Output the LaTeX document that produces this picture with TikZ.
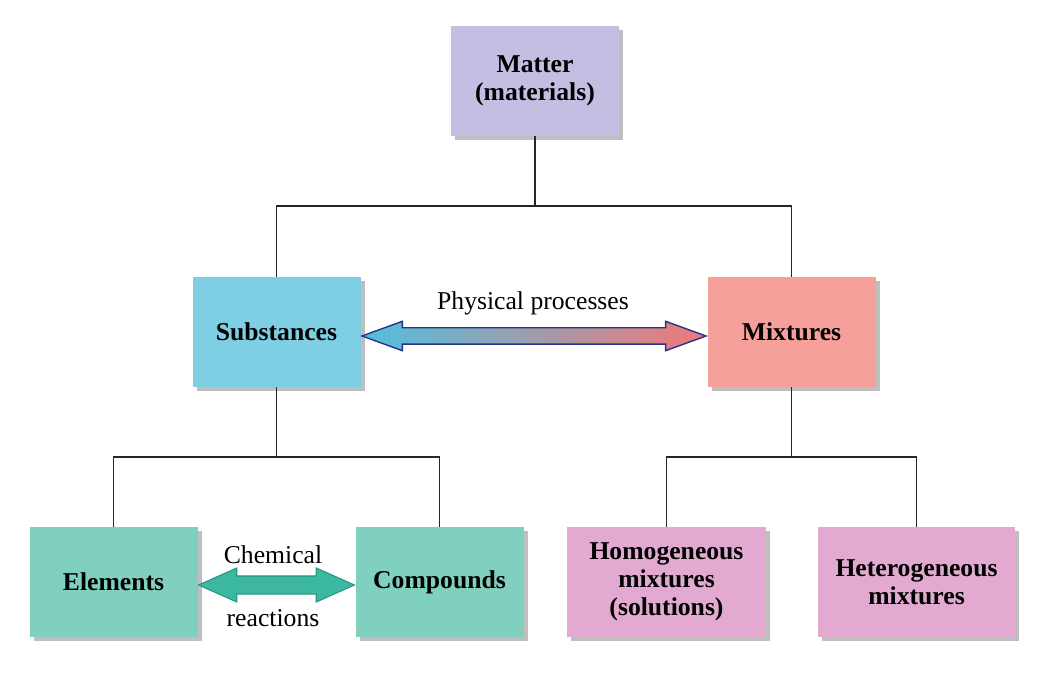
\documentclass[tikz,border=0pt]{standalone}
\usepackage{fontspec}
\setmainfont{Liberation Serif}
\usetikzlibrary{shapes.arrows,shadows,calc}
\definecolor{matcol}{RGB}{196,190,226}
\definecolor{subcol}{RGB}{126,206,228}
\definecolor{mixcol}{RGB}{245,160,155}
\definecolor{elcol}{RGB}{128,208,192}
\definecolor{solcol}{RGB}{226,170,208}
\definecolor{physblue}{RGB}{80,192,222}
\definecolor{physred}{RGB}{240,120,120}
\definecolor{physline}{RGB}{40,50,140}
\definecolor{chemfill}{RGB}{60,184,160}
\definecolor{chemline}{RGB}{40,150,130}
\begin{document}
\begin{tikzpicture}[
  box/.style={rectangle, align=center, font=\fontsize{14.6}{15.8}\selectfont\bfseries,
    minimum width=3.36cm, minimum height=2.2cm, inner sep=0pt,
    drop shadow={shadow xshift=0.08cm, shadow yshift=-0.08cm, fill=black, opacity=0.25}},
  lbl/.style={font=\fontsize{14.6}{16.5}\selectfont},
  tree/.style={draw=black!85, line width=0.8pt}]
\useasboundingbox (0,0) rectangle (20.78,13.56);

\node[box, fill=matcol] (matter) at (10.70,11.94) {Matter\\(materials)};
\node[box, fill=subcol] (subst) at (5.53,6.92) {Substances};
\node[box, fill=mixcol] (mix) at (15.83,6.92) {Mixtures};
\node[box, fill=elcol] (elem) at (2.27,1.92) {Elements};
\node[box, fill=elcol] (comp) at (8.79,1.92) {Compounds};
\node[box, fill=solcol, minimum width=3.98cm] (homo) at (13.33,1.92) {Homogeneous\\mixtures\\(solutions)};
\node[box, fill=solcol, minimum width=3.94cm] (hetero) at (18.33,1.92) {Heterogeneous\\mixtures};

% tree lines
\coordinate (j1) at (10.70,9.44);
\coordinate (j2) at (5.53,4.42);
\coordinate (j3) at (15.83,4.42);
\draw[tree] (matter) -- (j1);
\draw[tree] (j1) -| (subst);
\draw[tree] (j1) -| (mix);
\draw[tree] (subst) -- (j2);
\draw[tree] (j2) -| (elem);
\draw[tree] (j2) -| (comp);
\draw[tree] (mix) -- (j3);
\draw[tree] (j3) -| (homo);
\draw[tree] (j3) -| (hetero);

% fat arrows
\node[double arrow, draw=physline, line width=0.8pt, left color=physblue, right color=physred,
  minimum height=6.88cm, minimum width=0.56cm, double arrow head extend=0.13cm,
  double arrow tip angle=40, inner sep=0.15cm] (phys) at ($(subst.east)!0.5!(mix.west)+(0,-0.08)$) {};
\node[double arrow, draw=chemline, line width=0.6pt, fill=chemfill,
  minimum height=3.12cm, minimum width=0.66cm, double arrow head extend=0.16cm,
  double arrow tip angle=48, inner sep=0.17cm] (chem) at ($(elem.east)!0.5!(comp.west)+(0,-0.06)$) {};

\node[lbl] (physlbl) at (10.66,7.50) {Physical processes};
\node[lbl] (chemlbl) at (5.46,2.46) {Chemical};
\node[lbl] (reaclbl) at (5.46,1.20) {reactions};
\end{tikzpicture}
\end{document}
